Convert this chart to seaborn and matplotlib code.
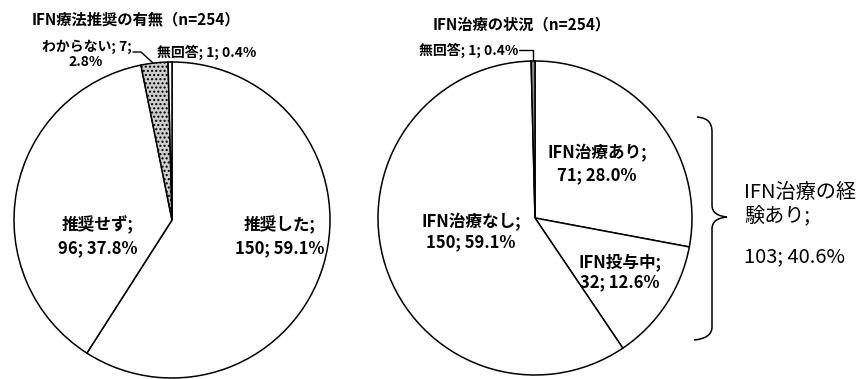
import matplotlib
matplotlib.use("Agg")
import matplotlib.pyplot as plt
from matplotlib.path import Path
from matplotlib.patches import PathPatch
import seaborn as sns

sns.set_theme(style="white")
plt.rcParams['font.family'] = ['Noto Sans CJK JP', 'DejaVu Sans']
plt.rcParams['hatch.linewidth'] = 1.0

# IFN therapy recommendation (n=254)
rec_title = "IFN療法推奨の有無（n=254）"
rec_labels = ["推奨した", "推奨せず", "わからない", "無回答"]
rec_counts = [150, 96, 7, 1]
rec_pcts = [59.1, 37.8, 2.8, 0.4]

# IFN treatment status (n=254)
status_title = "IFN治療の状況（n=254）"
status_labels = ["IFN治療あり", "IFN投与中", "IFN治療なし", "無回答"]
status_counts = [71, 32, 150, 1]
status_pcts = [28.0, 12.6, 59.1, 0.4]

# treated at some point = あり + 投与中
exp_lines = ["IFN治療の経", "験あり;"]
exp_count = 103
exp_pct = 40.6

W, H = 860, 379
fig = plt.figure(figsize=(W / 100, H / 100), dpi=100)
ax = fig.add_axes([0, 0, 1, 1])


def P(x, y):
    """pixel position (origin top-left) -> data coords"""
    return (x, H - y)


grays = sns.color_palette(["#ffffff", "#ffffff", "#cfcfcf", "#ffffff"])
wedges, _ = ax.pie(rec_counts, colors=grays, startangle=90, counterclock=False,
                   center=P(172, 220), radius=158,
                   wedgeprops=dict(edgecolor="black", linewidth=1.1))
wedges[2].set_hatch("....")

grays2 = sns.color_palette(["#ffffff", "#ffffff", "#ffffff", "#8c8c8c"])
ax.pie(status_counts, colors=grays2, startangle=90, counterclock=False,
       center=P(535, 218), radius=157,
       wedgeprops=dict(edgecolor="black", linewidth=1.1))

ax.set_xlim(0, W)
ax.set_ylim(0, H)
ax.set_aspect("equal")
ax.axis("off")

bold = dict(fontweight="bold", color="black")


def two_line(x, y1, y2, i, labels, counts, pcts, size=12):
    ax.text(*P(x, y1), f"{labels[i]};", fontsize=size, ha="center",
            va="center", **bold)
    ax.text(*P(x, y2), f"{counts[i]}; {pcts[i]:.1f}%", fontsize=size,
            ha="center", va="center", **bold)


# titles
ax.text(*P(32, 19), rec_title, fontsize=11, ha="left", va="center", **bold)
ax.text(*P(433, 24), status_title, fontsize=11, ha="left", va="center", **bold)

# inside labels of the left pie
two_line(280, 225, 248, 0, rec_labels, rec_counts, rec_pcts)
two_line(98, 225, 248, 1, rec_labels, rec_counts, rec_pcts)

# small wedges of the left pie
ax.text(*P(132, 47), f"{rec_labels[2]}; {rec_counts[2]};", fontsize=10,
        ha="right", va="center", **bold)
ax.text(*P(86, 62), f"{rec_pcts[2]:.1f}%", fontsize=10,
        ha="center", va="center", **bold)
ax.plot(*zip(P(133, 52), P(141, 52), P(153, 63)), color="black", lw=1)
ax.text(*P(157, 52), f"{rec_labels[3]}; {rec_counts[3]}; {rec_pcts[3]:.1f}%",
        fontsize=10, ha="left", va="center", **bold)

# inside labels of the right pie
two_line(597, 153, 175, 0, status_labels, status_counts, status_pcts)
two_line(620, 262, 282, 1, status_labels, status_counts, status_pcts)
two_line(471, 222, 242, 2, status_labels, status_counts, status_pcts)
ax.text(*P(518, 50),
        f"{status_labels[3]}; {status_counts[3]}; {status_pcts[3]:.1f}%",
        fontsize=10, ha="right", va="center", **bold)
ax.plot(*zip(P(519, 50), P(533, 50), P(533, 60)), color="black", lw=1)

# curly brace spanning the treated wedges
pts = [P(697, 117), P(709, 118), P(712, 124), P(712, 132),
       P(712, 205),
       P(712, 213), P(718, 216), P(727, 217),
       P(718, 218), P(712, 221), P(712, 229),
       P(712, 327),
       P(712, 335), P(705, 339), P(694, 340)]
codes = [Path.MOVETO, Path.CURVE4, Path.CURVE4, Path.CURVE4,
         Path.LINETO,
         Path.CURVE4, Path.CURVE4, Path.CURVE4,
         Path.CURVE4, Path.CURVE4, Path.CURVE4,
         Path.LINETO,
         Path.CURVE4, Path.CURVE4, Path.CURVE4]
ax.add_patch(PathPatch(Path(pts, codes), facecolor="none", edgecolor="black", lw=1.1))

ax.text(*P(744, 193), exp_lines[0], fontsize=14.5, ha="left", va="center",
        color="black")
ax.text(*P(744, 216), exp_lines[1], fontsize=14.5, ha="left", va="center",
        color="black")
ax.text(*P(744, 257), f"{exp_count}; {exp_pct:.1f}%", fontsize=14.5,
        ha="left", va="center", color="black")

fig.savefig("out.png", dpi=100, facecolor="white")
